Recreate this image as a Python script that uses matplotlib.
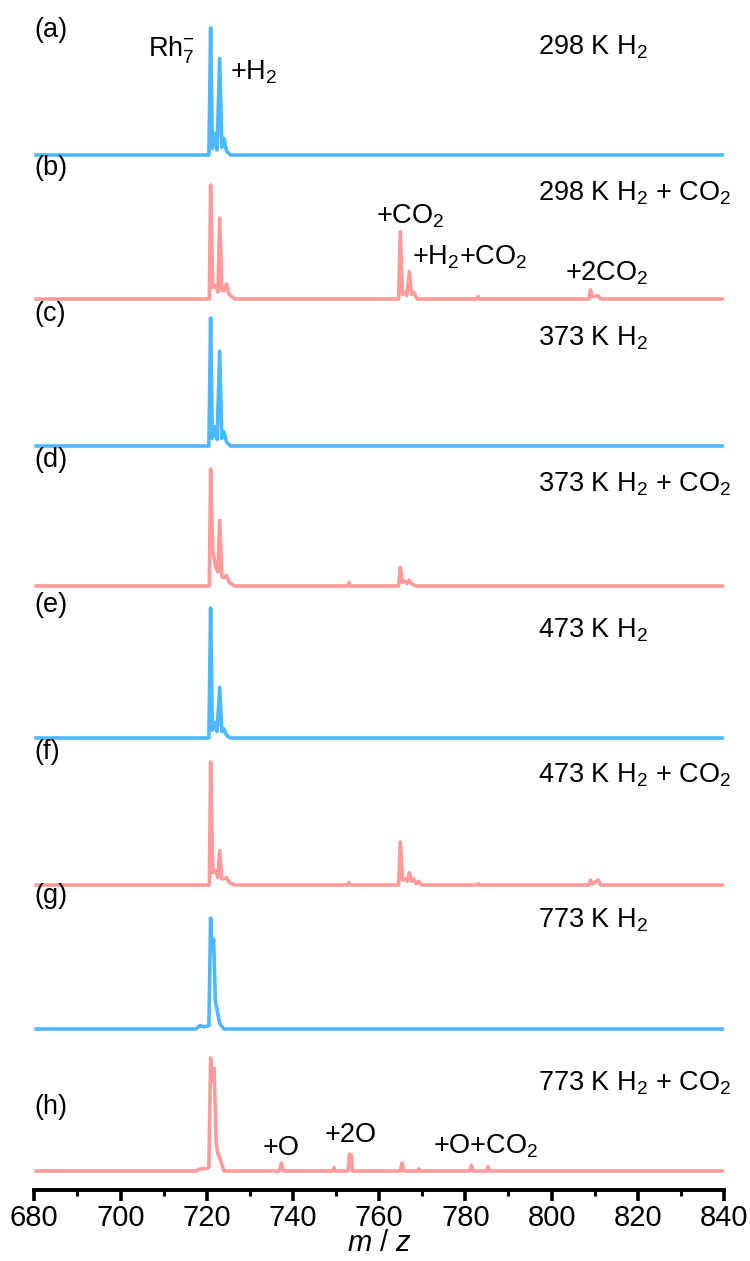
import numpy as np
import matplotlib
matplotlib.use("Agg")
import matplotlib.pyplot as plt
from matplotlib.ticker import MultipleLocator

plt.rcParams["font.family"] = ["Liberation Sans", "DejaVu Sans"]
plt.rcParams["mathtext.fontset"] = "custom"
plt.rcParams["mathtext.rm"] = "Liberation Sans"
plt.rcParams["mathtext.it"] = "Liberation Sans:italic"

BLUE = "#4DB8FF"
PINK = "#FF9B9B"

# --- spectra (m/z, intensity relative to Rh7- peak) ---
mz_a = [680, 720.5, 720.9, 721.3, 721.9, 722.4, 723.0, 723.5, 724.0, 724.6, 725.5, 840]
in_a = [0, 0.0, 1.00, 0.05, 0.17, 0.04, 0.76, 0.06, 0.13, 0.03, 0.0, 0]

mz_b = [680, 720.6, 720.9, 721.4, 722.1, 722.6, 723.0, 723.5, 724.0, 724.6, 725.2, 726.5,
        764.5, 764.9, 765.4, 765.9, 766.4, 767.0, 767.5, 768.0, 768.8,
        782.7, 783.0, 783.3, 808.7, 809.0, 809.5, 810.8, 811.4, 840]
in_b = [0, 0.0, 1.00, 0.10, 0.12, 0.06, 0.71, 0.08, 0.07, 0.13, 0.04, 0.0,
        0.0, 0.59, 0.04, 0.06, 0.03, 0.24, 0.04, 0.06, 0.0,
        0.00, 0.02, 0.00, 0.00, 0.08, 0.02, 0.03, 0.00, 0]

mz_c = [680, 720.5, 720.9, 721.3, 721.9, 722.4, 723.0, 723.5, 724.0, 724.6, 725.5, 840]
in_c = [0, 0.0, 1.00, 0.06, 0.15, 0.05, 0.74, 0.06, 0.11, 0.03, 0.0, 0]

mz_d = [680, 720.6, 720.9, 721.4, 722.1, 722.6, 723.0, 723.5, 724.0, 724.6, 725.2, 726.5,
        752.7, 753.0, 753.3, 764.5, 764.9, 765.4, 766.0, 766.5, 767.0, 767.5, 768.5, 840]
in_d = [0, 0.0, 1.00, 0.30, 0.16, 0.12, 0.56, 0.08, 0.07, 0.09, 0.03, 0.0,
        0.00, 0.03, 0.00, 0.0, 0.16, 0.03, 0.04, 0.02, 0.05, 0.02, 0.00, 0]

mz_e = [680, 720.5, 720.9, 721.3, 721.9, 722.4, 723.0, 723.5, 724.0, 724.6, 725.5, 840]
in_e = [0, 0.0, 1.00, 0.06, 0.12, 0.05, 0.39, 0.05, 0.07, 0.02, 0.0, 0]

mz_f = [680, 720.6, 720.9, 721.4, 722.1, 722.6, 723.0, 723.5, 724.0, 724.6, 725.2, 726.5,
        752.7, 753.0, 753.3, 764.5, 764.9, 765.4, 766.0, 766.5, 767.0, 767.5, 768.0, 768.6,
        769.2, 769.8, 782.7, 783.0, 783.3, 808.7, 809.0, 809.6, 810.8, 811.4, 840]
in_f = [0, 0.0, 1.00, 0.10, 0.12, 0.06, 0.28, 0.05, 0.05, 0.06, 0.02, 0.0,
        0.00, 0.02, 0.00, 0.0, 0.35, 0.04, 0.05, 0.03, 0.10, 0.03, 0.05, 0.01,
        0.03, 0.00, 0.00, 0.01, 0.00, 0.00, 0.04, 0.01, 0.04, 0.00, 0]

mz_g = [680, 717.5, 718.4, 719.5, 720.5, 720.9, 721.2, 721.6, 722.0, 722.4, 723.0, 724.0, 840]
in_g = [0, 0.0, 0.03, 0.02, 0.03, 1.00, 0.70, 0.81, 0.25, 0.17, 0.05, 0.0, 0]

mz_h = [680, 717.5, 718.5, 719.8, 720.5, 720.9, 721.3, 721.7, 722.2, 722.6, 723.0, 724.0,
        736.8, 737.3, 737.8, 749.2, 749.5, 749.8, 752.8, 753.1, 753.5, 753.8,
        764.9, 765.3, 765.7, 768.9, 769.2, 769.5, 781.0, 781.4, 781.8, 785.0, 785.3, 785.6, 840]
in_h = [0, 0.0, 0.02, 0.02, 0.03, 1.00, 0.80, 0.91, 0.25, 0.15, 0.12, 0.0,
        0.00, 0.07, 0.00, 0.00, 0.03, 0.00, 0.00, 0.15, 0.14, 0.00,
        0.00, 0.07, 0.00, 0.00, 0.02, 0.00, 0.00, 0.05, 0.00, 0.00, 0.04, 0.00, 0]

spectra = [(mz_a, in_a), (mz_b, in_b), (mz_c, in_c), (mz_d, in_d),
           (mz_e, in_e), (mz_f, in_f), (mz_g, in_g), (mz_h, in_h)]
panel_tags = ["(a)", "(b)", "(c)", "(d)", "(e)", "(f)", "(g)", "(h)"]
conditions = ["298 K H$_2$", "298 K H$_2$ + CO$_2$", "373 K H$_2$", "373 K H$_2$ + CO$_2$",
              "473 K H$_2$", "473 K H$_2$ + CO$_2$", "773 K H$_2$", "773 K H$_2$ + CO$_2$"]
colors = [BLUE, PINK] * 4

# layout (pixel rows from the top of the figure)
baselines = [155, 299, 446, 586, 738, 885, 1029, 1171]
heights = [127, 114, 128, 117, 130, 123, 111, 113]
tag_y = [30, 168, 314, 460, 605, 752, 896, 1107]
cond_y = [47, 193, 338, 484, 630, 775, 920, 1083]

W, H = 750, 1261
fig = plt.figure(figsize=(W / 100, H / 100), dpi=100)
ax = fig.add_axes([34.3 / W, (H - 1190) / H, (724 - 34.3) / W, 1190 / H])
ax.set_xlim(680, 840)
ax.set_ylim(1190, 0)

for (mz, inten), base, hgt, col in zip(spectra, baselines, heights, colors):
    y = base - hgt * np.asarray(inten)
    ax.plot(mz, y, color=col, lw=2.6, solid_joinstyle="round", solid_capstyle="butt")

fs = 19.5
for tag, ty in zip(panel_tags, tag_y):
    ax.text(0.0, ty, tag, transform=ax.get_yaxis_transform(), fontsize=fs,
            ha="left", va="center")
for cond, cy in zip(conditions, cond_y):
    ax.text(0.731, cy, cond, transform=ax.get_yaxis_transform(), fontsize=fs,
            ha="left", va="center")

# peak assignments
ax.text(706.4, 50, r"Rh$_7^{-}$", fontsize=fs, ha="left", va="center")
ax.text(725.4, 72, "+H$_2$", fontsize=fs, ha="left", va="center")
ax.text(759.3, 216, "+CO$_2$", fontsize=fs, ha="left", va="center")
ax.text(767.6, 257, "+H$_2$+CO$_2$", fontsize=fs, ha="left", va="center")
ax.text(803.1, 273, "+2CO$_2$", fontsize=fs, ha="left", va="center")
ax.text(737.3, 1148, "+O", fontsize=fs, ha="center", va="center")
ax.text(753.4, 1135, "+2O", fontsize=fs, ha="center", va="center")
ax.text(772.5, 1146, "+O+CO$_2$", fontsize=fs, ha="left", va="center")

for side in ("left", "right", "top"):
    ax.spines[side].set_visible(False)
ax.spines["bottom"].set_linewidth(2.8)
ax.set_yticks([])
ax.xaxis.set_major_locator(MultipleLocator(20))
ax.xaxis.set_minor_locator(MultipleLocator(10))
ax.tick_params(axis="x", which="major", length=8, width=2.6, labelsize=21, pad=2)
ax.tick_params(axis="x", which="minor", length=4.5, width=2.2)
ax.set_xlabel("$m$ / $z$", fontsize=21, labelpad=-2)

fig.savefig("out.png", dpi=100)
